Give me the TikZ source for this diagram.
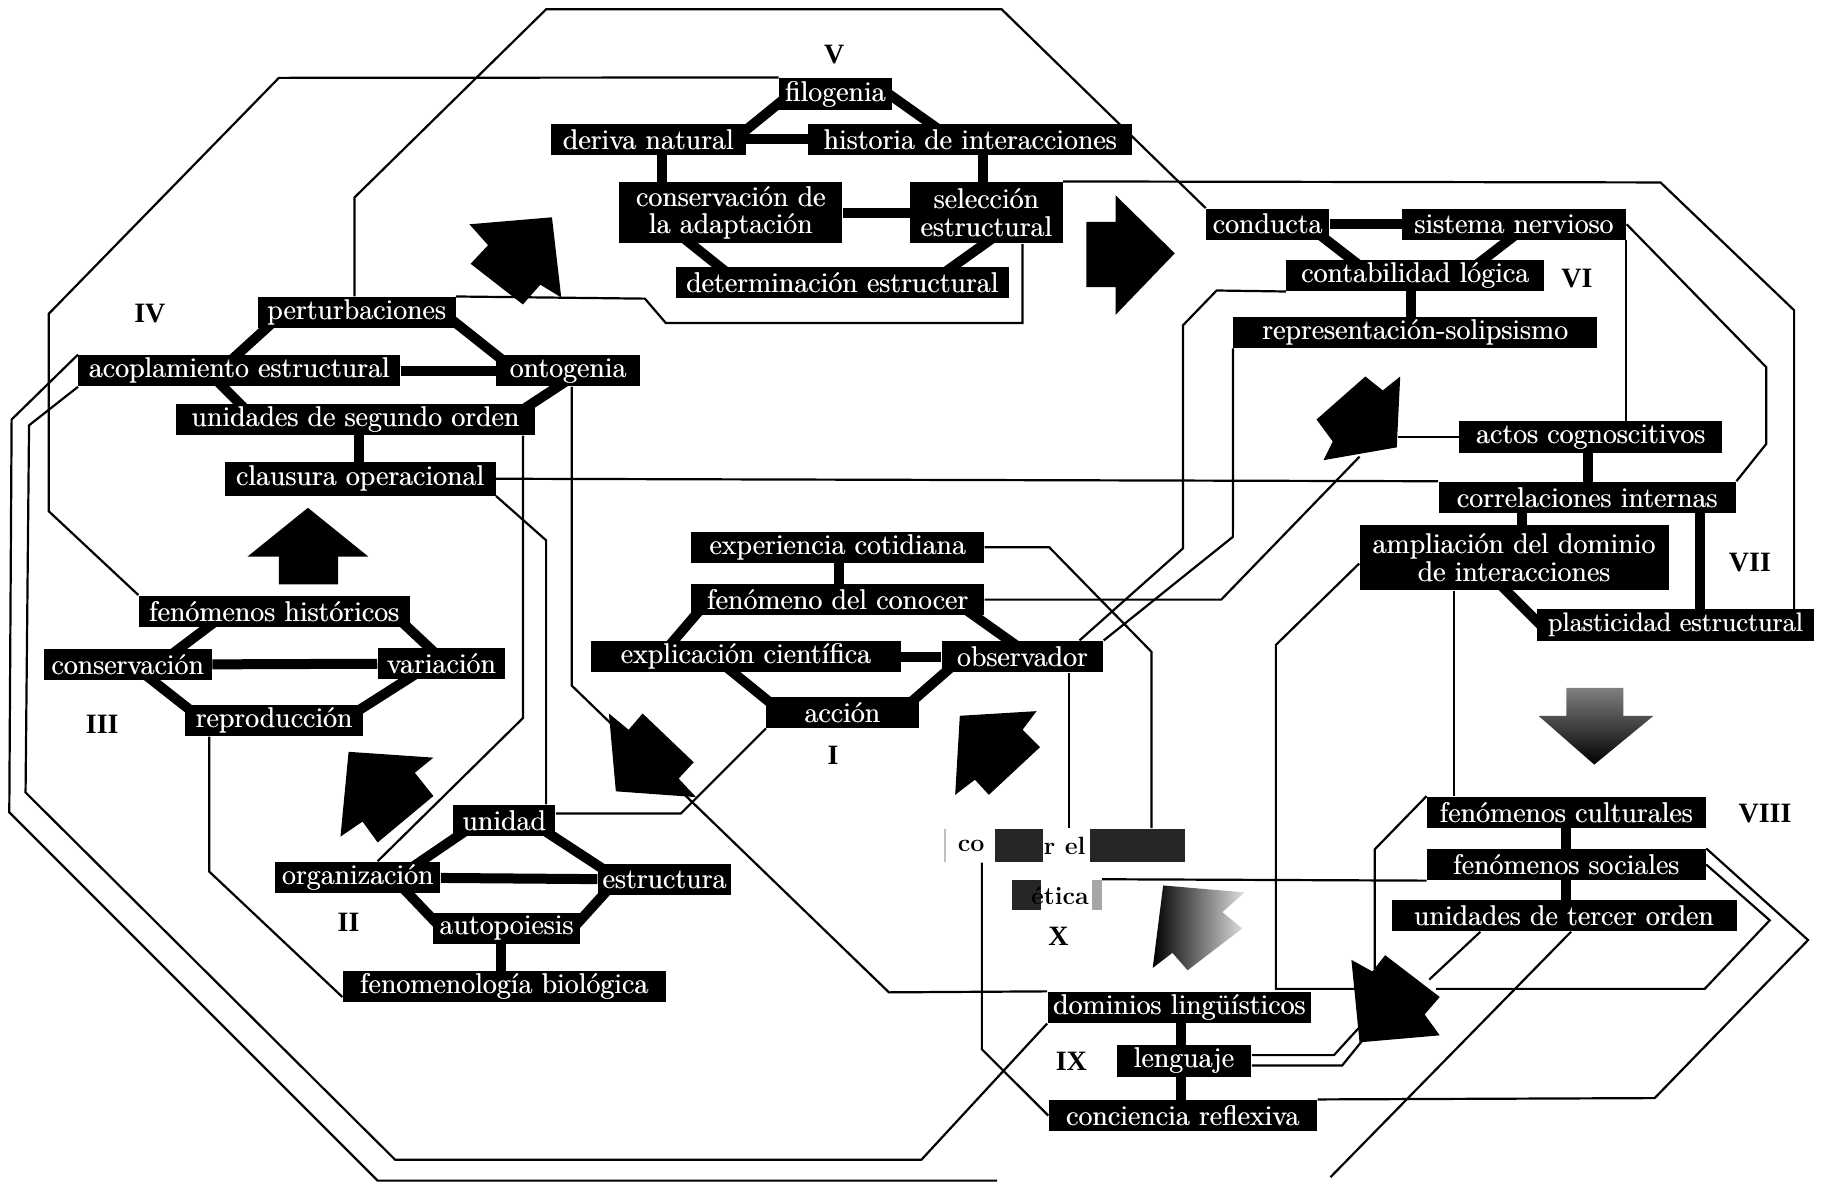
\documentclass[tikz,border=0pt]{standalone}
\usepackage{fontspec}
\newfontfamily\numfont{Liberation Serif}
\newcommand\fatt[1]{\leavevmode\rlap{#1}\kern0.3pt#1}
\pgfdeclarelayer{bg}
\pgfsetlayers{bg,main}
\tikzset{
  bx/.style={fill=black, text=white, inner sep=0pt, align=center,
    font=\fontsize{14.2}{13.6}\selectfont, minimum height=15.7pt},
  bw/.style={minimum width=#1*0.581pt},
  bh/.style={minimum height=#1*0.581pt},
  tlink/.style={line width=5pt},
  wire/.style={line width=1.1pt, line join=miter},
  num/.style={font=\numfont\bfseries\fontsize{14}{14}\selectfont},
  arr/.style={fill=black},
  blk/.style={font=\bfseries\fontsize{12.5}{12.5}\selectfont, text=black, inner sep=0pt, anchor=west},
}
\begin{document}
\begin{tikzpicture}[x=0.581pt,y=-0.581pt]
\begin{pgfonlayer}{bg}
\fill[white] (0,0) rectangle (1568,1021);
\end{pgfonlayer}
\useasboundingbox (0,0) rectangle (1568,1021);

% ---------- V
\node[bx,bw=97,bh=28] (filo) at (719,81) {\fatt{filogenia}};
\node[bx,bw=168] (deriva) at (558,120) {\fatt{deriva natural}};
\node[bx,bw=279] (historia) at (835,120) {\fatt{historia de interacciones}};
\node[bx,bw=192,bh=53] (conserv) at (629,183) {\fatt{conservación de}\\\fatt{la adaptación}};
\node[bx,bw=131,bh=53] (seleccion) at (849,183) {\fatt{selección}\\\fatt{estructural}};
\node[bx,bw=286] (determ) at (725,243) {\fatt{determinación estructural}};
% ---------- IV
\node[bx,bw=170] (perturb) at (307,269) {\fatt{perturbaciones}};
\node[bx,bw=277] (acopl) at (206,319) {\fatt{acoplamiento estructural}};
\node[bx,bw=124] (onto) at (489,319) {\fatt{ontogenia}};
\node[bx,bw=309] (unid2) at (306,361) {\fatt{unidades de segundo orden}};
\node[bx,bw=233,bh=29] (clausura) at (310,412) {\fatt{clausura operacional}};
% ---------- III
\node[bx,bw=233] (historicos) at (236,526) {\fatt{fenómenos históricos}};
\node[bx,bw=145] (conservacion) at (110,572) {\fatt{conservación}};
\node[bx,bw=110] (variacion) at (380,571) {\fatt{variación}};
\node[bx,bw=153] (reproduccion) at (236,620) {\fatt{reproducción}};
% ---------- II
\node[bx,bw=88] (unidad) at (434,706) {\fatt{unidad}};
\node[bx,bw=142] (organiz) at (308,755) {\fatt{organización}};
\node[bx,bw=115] (estructura) at (572,757) {\fatt{estructura}};
\node[bx,bw=127] (autopo) at (436,799) {\fatt{autopoiesis}};
\node[bx,bw=278] (fenbio) at (434,849) {\fatt{fenomenología biológica}};
% ---------- I
\node[bx,bw=252] (experiencia) at (721,471) {\fatt{experiencia cotidiana}};
\node[bx,bw=252] (fenconocer) at (721,516) {\fatt{fenómeno del conocer}};
\node[bx,bw=266] (explic) at (642,565) {\fatt{explicación científica}};
\node[bx,bw=139] (observ) at (880,565) {\fatt{observador}};
\node[bx,bw=131] (accion) at (725,613) {\fatt{acción}};
% ---------- VI
\node[bx,bw=106] (conducta) at (1091,193) {\fatt{conducta}};
\node[bx,bw=193] (sistema) at (1303,193) {\fatt{sistema nervioso}};
\node[bx,bw=222] (contab) at (1218,237) {\fatt{contabilidad lógica}};
\node[bx,bw=313] (repres) at (1218,286) {\fatt{representación-solipsismo}};
% ---------- VII
\node[bx,bw=226] (actos) at (1369,376) {\fatt{actos cognoscitivos}};
\node[bx,bw=256] (correl) at (1366,428) {\fatt{correlaciones internas}};
\node[bx,bw=266,bh=56] (amplia) at (1303,480) {\fatt{ampliación del dominio}\\\fatt{de interacciones}};
\node[bx,bw=238,font=\fontsize{13.3}{13.3}\selectfont] (plastic) at (1442,538) {\fatt{plasticidad estructural}};
% ---------- VIII
\node[bx,bw=240] (cultur) at (1348,699) {\fatt{fenómenos culturales}};
\node[bx,bw=240] (social) at (1348,744) {\fatt{fenómenos sociales}};
\node[bx,bw=297] (tercer) at (1346,788) {\fatt{unidades de tercer orden}};
% ---------- IX
\node[bx,bw=227] (dominios) at (1015,867) {\fatt{dominios lingüísticos}};
\node[bx,bw=116] (lenguaje) at (1019,913) {\fatt{lenguaje}};
\node[bx,bw=231] (conciencia) at (1018,960) {\fatt{conciencia reflexiva}};
% ---------- X (partly blacked out)
\node[inner sep=0pt,bw=207,bh=29] (conocer) at (916.5,727.5) {};
\node[inner sep=0pt,bw=77,bh=26] (etica) at (909.5,770) {};
\fill[black!85] (856,713) rectangle (898,742);
\fill[black!85] (938,713) rectangle (1020,742);
\draw[gray!50,line width=0.8pt] (813,713) -- (813,742);
\node[blk] (tco) at (824,728) {co};
\node[blk] (trel) at (898,728) {r el};
\fill[black!85] (871,757) rectangle (896,783);
\node[blk] (tetica) at (887,771) {ética};
\fill[gray!70] (940,757) rectangle (948,783);

% ---------- numerals
\node[num] (lV) at (718,47) {V};
\node[num] (lIV) at (129,270) {IV};
\node[num] (lVI) at (1357,240) {VI};
\node[num] (lVII) at (1506,484) {VII};
\node[num] (lVIII) at (1519,700) {VIII};
\node[num] (lIII) at (88,623) {III};
\node[num] (lII) at (300,794) {II};
\node[num] (lI) at (717,650) {I};
\node[num] (lIX) at (922,913) {IX};
\node[num] (lX) at (911,806) {X};

% ---------- free ends
\coordinate (a4r) at (1203,376);
\coordinate (a4b) at (1170,393);
\coordinate (outerend) at (858,1016);
\coordinate (a6l) at (1166,851);
\coordinate (a6r) at (1236,851);
\coordinate (a6a) at (1169,885);
\coordinate (a6c) at (1172,896);
\coordinate (t3a) at (1230,843);
\coordinate (t3b) at (1145,1013);
\coordinate (a6t) at (1183,834);

% ---------- block arrows
\fill[arr] (240,503) -- (240,479) -- (213,479) -- (265,437) -- (317,479) -- (291,479) -- (291,503) -- cycle;
\fill[arr] (404,193) -- (475,187) -- (483,256) -- (465,245) -- (450,262) -- (405,227) -- (420,211) -- cycle;
\fill[arr] (935,191) -- (960,191) -- (960,168) -- (1011,218) -- (960,271) -- (960,247) -- (935,247) -- cycle;
\fill[arr] (1175,324) -- (1190,336) -- (1205,324) -- (1202,385) -- (1139,396) -- (1147,380) -- (1133,361) -- cycle;
\shade[top color=black!50, bottom color=black] (1348,592) -- (1397,592) -- (1397,616) -- (1423,616) -- (1372,658) -- (1324,616) -- (1348,616) -- cycle;
\fill[arr] (1163,826) -- (1181,836) -- (1192,822) -- (1239,858) -- (1226,873) -- (1239,891) -- (1170,897) -- cycle;
\shade[left color=black, right color=gray!25] (1001,762) -- (1071,768) -- (1052,785) -- (1069,799) -- (1022,835) -- (1009,820) -- (992,833) -- cycle;
\fill[arr] (826,616) -- (892,612) -- (880,628) -- (895,643) -- (851,684) -- (839,671) -- (822,684) -- cycle;
\fill[arr] (300,647) -- (373,652) -- (357,665) -- (373,685) -- (325,725) -- (312,707) -- (293,720) -- cycle;
\fill[arr] (524,614) -- (541,628) -- (553,614) -- (597,656) -- (584,670) -- (599,686) -- (530,681) -- cycle;

\begin{pgfonlayer}{bg}
% ---------- thick cluster links
\draw[tlink] (680,0 |- filo.center) -- (632,0 |- deriva.center);
\draw[tlink] (765,0 |- filo.center) -- (820,0 |- historia.center);
\draw[tlink] (deriva) -- (historia);
\draw[tlink] (570,0 |- deriva.center) -- (570,0 |- conserv.center);
\draw[tlink] (846,0 |- historia.center) -- (846,0 |- seleccion.center);
\draw[tlink] (conserv) -- (seleccion);
\draw[tlink] (561,0 |- conserv.center) -- (636,0 |- determ.center);
\draw[tlink] (885,0 |- seleccion.center) -- (801,0 |- determ.center);

\draw[tlink] (244,0 |- perturb.center) -- (189,0 |- acopl.center);
\draw[tlink] (381,0 |- perturb.center) -- (444,0 |- onto.center);
\draw[tlink] (acopl) -- (onto);
\draw[tlink] (178,0 |- acopl.center) -- (220,0 |- unid2.center);
\draw[tlink] (501,0 |- onto.center) -- (437,0 |- unid2.center);
\draw[tlink] (309,0 |- unid2.center) -- (309,0 |- clausura.center);

\draw[tlink] (197,0 |- historicos.center) -- (136,0 |- conservacion.center);
\draw[tlink] (336,0 |- historicos.center) -- (384,0 |- variacion.center);
\draw[tlink] (conservacion) -- (variacion);
\draw[tlink] (114,0 |- conservacion.center) -- (175,0 |- reproduccion.center);
\draw[tlink] (372,0 |- variacion.center) -- (295,0 |- reproduccion.center);

\draw[tlink] (414,0 |- unidad.center) -- (342,0 |- organiz.center);
\draw[tlink] (455,0 |- unidad.center) -- (533,0 |- estructura.center);
\draw[tlink] (organiz) -- (estructura);
\draw[tlink] (338,0 |- organiz.center) -- (380,0 |- autopo.center);
\draw[tlink] (531,0 |- estructura.center) -- (493,0 |- autopo.center);
\draw[tlink] (431,0 |- autopo.center) -- (431,0 |- fenbio.center);

\draw[tlink] (722,0 |- experiencia.center) -- (722,0 |- fenconocer.center);
\draw[tlink] (610,0 |- fenconocer.center) -- (568,0 |- explic.center);
\draw[tlink] (819,0 |- fenconocer.center) -- (888,0 |- observ.center);
\draw[tlink] (explic) -- (observ);
\draw[tlink] (614,0 |- explic.center) -- (673,0 |- accion.center);
\draw[tlink] (829,0 |- observ.center) -- (774,0 |- accion.center);

\draw[tlink] (conducta) -- (sistema);
\draw[tlink] (1124,0 |- conducta.center) -- (1181,0 |- contab.center);
\draw[tlink] (1316,0 |- sistema.center) -- (1259,0 |- contab.center);
\draw[tlink] (1214,0 |- contab.center) -- (1214,0 |- repres.center);

\draw[tlink] (1367,0 |- actos.center) -- (1367,0 |- correl.center);
\draw[tlink] (1310,0 |- correl.center) -- (1310,0 |- amplia.center);
\draw[tlink] (1268,0 |- amplia.center) -- (1326,0 |- plastic.center);
\draw[tlink] (1463,0 |- correl.center) -- (1463,0 |- plastic.center);

\draw[tlink] (1348,0 |- cultur.center) -- (1348,0 |- social.center);
\draw[tlink] (1348,0 |- social.center) -- (1348,0 |- tercer.center);
\draw[tlink] (1016,0 |- dominios.center) -- (1016,0 |- lenguaje.center);
\draw[tlink] (1016,0 |- lenguaje.center) -- (1016,0 |- conciencia.center);

% ---------- thin connecting lines
\draw[wire] (305,0 |- perturb.north) -- (305,170) -- (470,8) -- (862,8) -- (conducta.north west);
\draw[wire] (filo.north west) -- (240,67) -- (42,270) -- (42,440) -- (historicos.north west);
\draw[wire] (perturb.north east) -- (555,257) -- (573,278) -- (880,278) -- (880,0 |- seleccion.south);
\draw[wire] (seleccion.north east) -- (1429,157) -- (1544,267) -- (1544,0 |- plastic.north);
\draw[wire] (sistema.east) -- (1520,316) -- (1520,382) -- (correl.north east);
\draw[wire] (1399,0 |- sistema.south) -- (1399,0 |- actos.north);
\draw[wire] (contab.south west) -- (1047,250) -- (1018,280) -- (1018,472) -- (929,0 |- observ.north);
\draw[wire] (repres.south west) -- (1061,462) -- (observ.north east);
\draw[wire] (actos.west) -- (a4r);
\draw[wire] (clausura.east) -- (correl.north west);
\draw[wire] (clausura.south east) -- (470,465) -- (470,0 |- unidad.north);
\draw[wire] (450,0 |- unid2.south) -- (450,618) -- (325,0 |- organiz.north);
\draw[wire] (unidad.east |- 0,700) -- (586,700) -- (accion.south west);
\draw[wire] (492,0 |- onto.south) -- (492,590) -- (765,854) -- (dominios.north west);
\draw[wire] (180,0 |- reproduccion.south) -- (180,750) -- (fenbio.west |- 0,858);
\draw[wire] (acopl.north west) -- (10,361) -- (8,699) -- (325,1016) -- (outerend);
\draw[wire] (acopl.south west) -- (25,366) -- (22,682) -- (340,998) -- (793,998) -- (dominios.south west);
\draw[wire] (845,0 |- conocer.south) -- (845,903) -- (conciencia.west);
\draw[wire] (920,0 |- observ.south) -- (920,0 |- conocer.north);
\draw[wire] (experiencia.east) -- (903,471) -- (991,561) -- (991,0 |- conocer.north);
\draw[wire] (fenconocer.east) -- (1051,516) -- (a4b);
\draw[wire] (etica.north east) -- (social.south west);
\draw[wire] (amplia.west |- 0,485) -- (1098,555) -- (1098,851) -- (a6l);
\draw[wire] (social.north east) -- (1556,809) -- (1424,945) -- (conciencia.north east);
\draw[wire] (social.east) -- (1523,792) -- (1467,851) -- (a6r);
\draw[wire] (lenguaje.east |- 0,908) -- (1148,908) -- (a6a);
\draw[wire] (lenguaje.east |- 0,917) -- (1155,917) -- (a6c);
\draw[wire] (1274,0 |- tercer.south) -- (t3a);
\draw[wire] (1352,0 |- tercer.south) -- (t3b);
\draw[wire] (cultur.north west) -- (1183,731) -- (a6t);
\draw[wire] (1251,0 |- amplia.south) -- (1251,0 |- cultur.north);
\end{pgfonlayer}
\end{tikzpicture}
\end{document}
